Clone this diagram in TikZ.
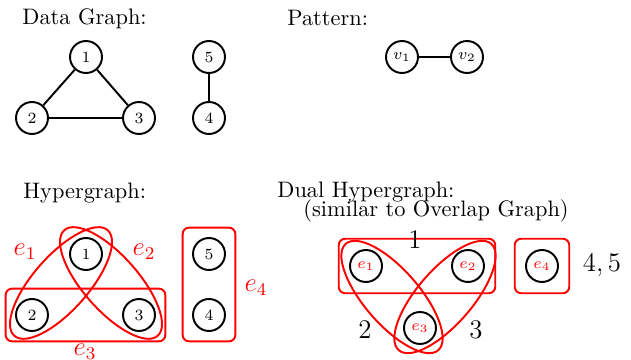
\documentclass[tikz,border=0pt]{standalone}
\usepackage{tikz}
\usetikzlibrary{shapes.geometric, fit}

\begin{document}
\begin{tikzpicture}[
  x=0.447pt, y=-0.447pt,
  vert/.style={
    circle, draw, line width=0.87pt,
    minimum size=14.3pt, inner sep=0pt, font=\scriptsize
  },
  link/.style={line width=0.87pt},
  hedge/.style={
    rectangle, rounded corners=2.9pt, draw=red, line width=0.87pt,
    inner sep=4.2pt
  },
  hell/.style={
    ellipse, draw=red, line width=0.87pt,
    minimum width=63pt, minimum height=24.5pt, inner sep=0pt
  },
  elbl/.style={text=red, font=\large},
  dlbl/.style={font=\large},
  head/.style={anchor=base west, inner sep=0pt},
]
\useasboundingbox (0,0) rectangle (631,360);

% data graph
\node[head] (tdata) at (22,25) {Data Graph:};
\node[vert] (g1) at (86,57)  {1};
\node[vert] (g2) at (32,118) {2};
\node[vert] (g3) at (139,118) {3};
\node[vert] (g5) at (209,57) {5};
\node[vert] (g4) at (209,118) {4};
\draw[link] (g1) -- (g2);
\draw[link] (g1) -- (g3);
\draw[link] (g2) -- (g3);
\draw[link] (g5) -- (g4);

% pattern
\node[head] (tpat) at (287,26) {Pattern:};
\node[vert] (v1) at (402,57) {$v_1$};
\node[vert] (v2) at (467,57) {$v_2$};
\draw[link] (v1) -- (v2);

% hypergraph
\node[head] (thyp) at (23,199) {Hypergraph:};
\node[vert] (h1) at (86,254) {1};
\node[vert] (h2) at (32,315) {2};
\node[vert] (h3) at (139,315) {3};
\node[vert] (h5) at (209,254) {5};
\node[vert] (h4) at (209,315) {4};
\node[hell, rotate=48.5] (he1) at (61,283) {};
\node[hell, rotate=-48.5] (he2) at (111,283) {};
\node[hedge, fit=(h2)(h3)] (he3) {};
\node[hedge, fit=(h5)(h4)] (he4) {};
\node[elbl] (le1) at (25,252) {$e_1$};
\node[elbl] (le2) at (144,252) {$e_2$};
\node[elbl] (le3) at (85,352) {$e_3$};
\node[elbl] (le4) at (256,288) {$e_4$};

% dual hypergraph
\node[head] (tdual) at (277,198) {Dual Hypergraph:};
\node[head] (tsim) at (303,217) {(similar to Overlap Graph)};
\node[vert, text=red] (d1) at (366,266) {$e_1$};
\node[vert, text=red] (d2) at (468,266) {$e_2$};
\node[vert, text=red] (d3) at (420,328) {$e_3$};
\node[vert, text=red] (d4) at (542,266) {$e_4$};
\node[hedge, inner sep=4.6pt, fit=(d1)(d2)] (de1) {};
\node[hedge, inner sep=4.6pt, fit=(d4)] (de4) {};
\node[hell, rotate=-49] (de2) at (392,297) {};
\node[hell, rotate=49] (de3) at (445,297) {};
\node[dlbl] (ld1) at (415,240) {1};
\node[dlbl] (ld2) at (365,330) {2};
\node[dlbl] (ld3) at (476,330) {3};
\node[dlbl] (ld4) at (602,265) {$4,5$};

\end{tikzpicture}
\end{document}
